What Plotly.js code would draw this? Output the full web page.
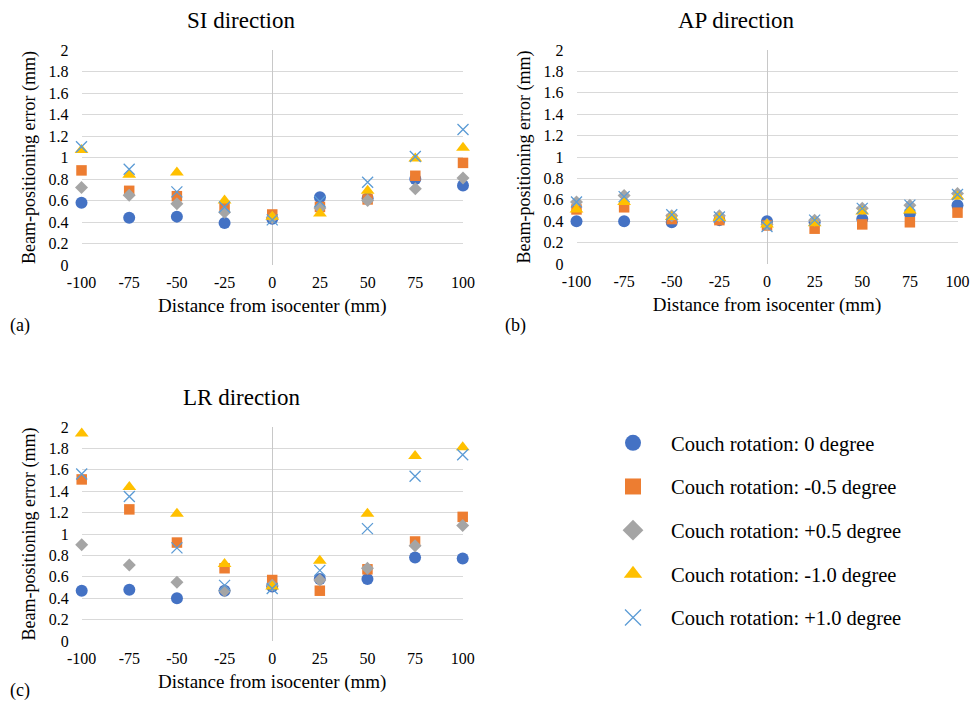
<!DOCTYPE html>
<html>
<head>
<meta charset="utf-8">
<script src="https://cdn.plot.ly/plotly-3.0.1.min.js"></script>
<style>
html,body{margin:0;padding:0;background:#fff;}
#chart{width:971px;height:706px;}
#chart .legend .traces{opacity:1 !important;}
</style>
</head>
<body>
<div id="chart"></div>
<script>
// Distance from isocenter (mm)
const distances = [-100, -75, -50, -25, 0, 25, 50, 75, 100];
const seriesNames = [
  'Couch rotation: 0 degree',
  'Couch rotation: -0.5 degree',
  'Couch rotation: +0.5 degree',
  'Couch rotation: -1.0 degree',
  'Couch rotation: +1.0 degree'
];
const xTicks = [-100, -75, -50, -25, 0, 25, 50, 75, 100];
const yTicks = [0, 0.2, 0.4, 0.6, 0.8, 1, 1.2, 1.4, 1.6, 1.8, 2];

// SI direction
const si_rot0   = [0.58, 0.44, 0.45, 0.39, 0.43, 0.63, 0.62, 0.80, 0.74];
const si_rotM05 = [0.88, 0.69, 0.64, 0.53, 0.47, 0.54, 0.61, 0.83, 0.95];
const si_rotP05 = [0.72, 0.65, 0.57, 0.49, 0.44, 0.53, 0.60, 0.71, 0.81];
const si_rotM10 = [1.07, 0.84, 0.86, 0.60, 0.45, 0.48, 0.69, 0.99, 1.09];
const si_rotP10 = [1.10, 0.89, 0.68, 0.54, 0.42, 0.59, 0.77, 1.01, 1.26];

// AP direction
const ap_rot0   = [0.40, 0.40, 0.39, 0.41, 0.40, 0.39, 0.42, 0.47, 0.55];
const ap_rotM05 = [0.51, 0.53, 0.42, 0.41, 0.36, 0.33, 0.37, 0.39, 0.48];
const ap_rotP05 = [0.58, 0.64, 0.45, 0.45, 0.37, 0.41, 0.52, 0.55, 0.66];
const ap_rotM10 = [0.51, 0.58, 0.44, 0.43, 0.37, 0.38, 0.49, 0.50, 0.63];
const ap_rotP10 = [0.58, 0.63, 0.46, 0.44, 0.35, 0.41, 0.52, 0.55, 0.65];

// LR direction
const lr_rot0   = [0.47, 0.48, 0.40, 0.47, 0.51, 0.58, 0.58, 0.78, 0.77];
const lr_rotM05 = [1.51, 1.23, 0.92, 0.68, 0.57, 0.47, 0.67, 0.93, 1.16];
const lr_rotP05 = [0.90, 0.71, 0.55, 0.47, 0.52, 0.57, 0.68, 0.89, 1.08];
const lr_rotM10 = [1.94, 1.44, 1.19, 0.72, 0.51, 0.75, 1.19, 1.73, 1.81];
const lr_rotP10 = [1.56, 1.35, 0.87, 0.52, 0.49, 0.66, 1.05, 1.54, 1.74];

const FONT = 'Liberation Serif';
const W = 971, H = 706;

const markerStyles = [
  {symbol: 'circle', color: '#4472C4', size: 12},
  {symbol: 'square', color: '#ED7D31', size: 10.5},
  {symbol: 'diamond', color: '#A5A5A5', size: 10},
  {symbol: 'triangle-up', color: '#FFC000', size: 12},
  {symbol: 'x-thin-open', color: '#5B9BD5', size: 11}
];

function mk(style, size) {
  const m = {symbol: style.symbol, color: style.color, size: size || style.size};
  if (style.symbol === 'x-thin-open') m.line = {color: style.color, width: 1.3};
  else m.line = {width: 0};
  return m;
}

const panels = [
  {xa: 'x', ya: 'y', data: [si_rot0, si_rotM05, si_rotP05, si_rotM10, si_rotP10]},
  {xa: 'x2', ya: 'y2', data: [ap_rot0, ap_rotM05, ap_rotP05, ap_rotM10, ap_rotP10]},
  {xa: 'x3', ya: 'y3', data: [lr_rot0, lr_rotM05, lr_rotP05, lr_rotM10, lr_rotP10]}
];

const traces = [];
panels.forEach(p => {
  p.data.forEach((vals, i) => {
    traces.push({
      type: 'scatter', mode: 'markers', x: distances, y: vals,
      xaxis: p.xa, yaxis: p.ya, name: seriesNames[i],
      marker: mk(markerStyles[i]), showlegend: false, cliponaxis: false
    });
  });
});
// legend entries (legend-only copies of the LR series, with larger legend symbols)
panels[2].data.forEach((vals, i) => {
  traces.push({
    type: 'scatter', mode: 'markers', x: distances, y: vals, xaxis: 'x3', yaxis: 'y3',
    name: seriesNames[i], marker: mk(markerStyles[i], 16),
    visible: 'legendonly', showlegend: true, legendgroup: 'g' + i
  });
});

function px(x) { return x / W; }
function py(y) { return 1 - y / H; }

function xAxis(domain, anchor) {
  return {
    domain: domain, anchor: anchor, range: [-100, 100], tickvals: xTicks,
    ticktext: xTicks.map(String), showgrid: false, zeroline: true,
    zerolinecolor: '#c8c8c8', zerolinewidth: 1, showline: false, ticks: '',
    tickfont: {family: FONT, size: 16, color: '#000'}, ticklabelstandoff: 6,
    title: {text: 'Distance from isocenter (mm)', font: {family: FONT, size: 19, color: '#000'}, standoff: 8}
  };
}
function yAxis(domain, anchor) {
  return {
    domain: domain, anchor: anchor, range: [0, 2], tickvals: yTicks,
    ticktext: yTicks.map(String), showgrid: true, gridcolor: '#d9d9d9', gridwidth: 1,
    zeroline: false, showline: false, ticks: '',
    tickfont: {family: FONT, size: 16, color: '#000'}, ticklabelstandoff: 12,
    title: {text: 'Beam-positioning error (mm)', font: {family: FONT, size: 18, color: '#000'}, standoff: 8}
  };
}

function ann(text, x, y, size) {
  return {text: text, x: px(x), y: py(y), xref: 'paper', yref: 'paper', showarrow: false,
    xanchor: 'center', yanchor: 'middle', font: {family: FONT, size: size, color: '#000'}};
}

const layout = {
  width: W, height: H,
  margin: {l: 0, r: 0, t: 0, b: 0},
  paper_bgcolor: '#fff', plot_bgcolor: '#fff',
  font: {family: FONT, color: '#000'},
  xaxis: xAxis([px(81.5), px(463)], 'y'),
  yaxis: yAxis([py(265), py(50)], 'x'),
  xaxis2: xAxis([px(576.5), px(957.5)], 'y2'),
  yaxis2: yAxis([py(264), py(50)], 'x2'),
  xaxis3: xAxis([px(81.7), px(462.7)], 'y3'),
  yaxis3: yAxis([py(641), py(427)], 'x3'),
  showlegend: true,
  legend: {
    x: px(595), y: py(423), xanchor: 'left', yanchor: 'top',
    font: {family: FONT, size: 20.5, color: '#000'}, itemwidth: 66,
    tracegroupgap: 14, bgcolor: 'rgba(0,0,0,0)', itemsizing: 'trace', itemclick: false
  },
  annotations: [
    ann('SI direction', 241, 20, 23),
    ann('AP direction', 736, 20, 23),
    ann('LR direction', 241, 397, 23),
    ann('(a)', 20, 325, 18),
    ann('(b)', 515, 325, 18),
    ann('(c)', 20, 690, 18)
  ]
};

Plotly.newPlot('chart', traces, layout, {displayModeBar: false, staticPlot: true});
</script>
</body>
</html>
